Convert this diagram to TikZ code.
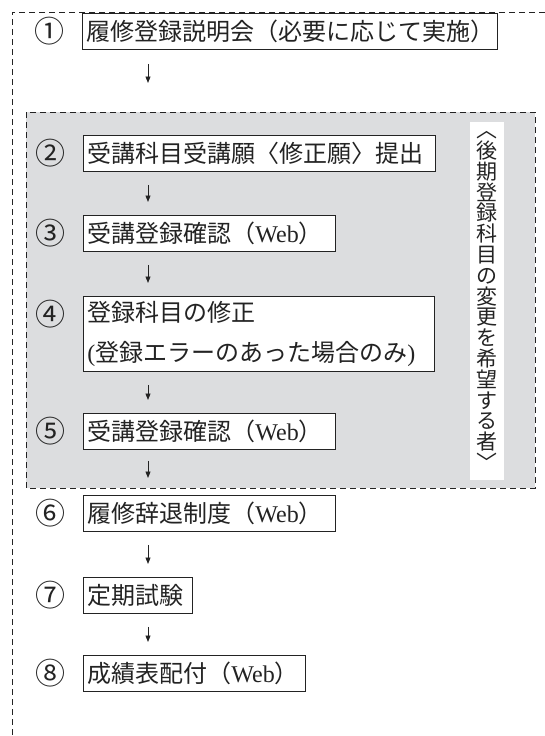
\documentclass[tikz,border=0pt]{standalone}
\usepackage{fontspec}
\setmainfont{Noto Sans CJK JP}
\newfontfamily\latin{Liberation Serif}
\usetikzlibrary{arrows.meta}

\definecolor{ink}{RGB}{35,35,35}
\definecolor{panelgray}{RGB}{220,221,223}

\tikzset{
  stepbox/.style={draw=ink, line width=0.8pt, fill=white, anchor=north west,
    minimum height=36pt, inner xsep=4pt, inner ysep=0pt, text width=#1pt,
    align=left, text=ink, font=\fontsize{24}{40}\selectfont},
  num/.style={text=ink, inner sep=0pt, font=\fontsize{30}{30}\selectfont},
  flow/.style={draw=ink, line width=0.9pt, -{Triangle[length=6.5pt,width=5pt]},
    shorten <=13pt, shorten >=13pt},
  frame/.style={draw=ink, line width=0.9pt, dash pattern=on 6pt off 4pt},
  vlabel/.style={fill=white, inner sep=0pt, minimum width=34pt, minimum height=358pt,
    align=center, text=ink, font=\fontsize{21}{20.8}\selectfont}
}

\newcommand{\web}{（{\latin Web}）}

\begin{document}
\begin{tikzpicture}[x=1pt, y=-1pt, line cap=butt]

  \useasboundingbox (0,0) rectangle (545,736);

  % frames
  \draw[frame] (545,12) -- (12,12) -- (12,736);
  \draw[frame, fill=panelgray] (26,112) rectangle (535,488);

  % steps
  \node[stepbox=407] (b1) at (82,13)  {履修登録説明会（必要に応じて実施）};
  \node[stepbox=344] (b2) at (83,135) {受講科目受講願〈修正願〉提出};
  \node[stepbox=244] (b3) at (83,215) {受講登録確認\web};
  \node[stepbox=343, minimum height=75pt] (b4) at (83,296)
    {登録科目の修正\\{\latin(}登録エラーのあった場合のみ{\latin)}};
  \node[stepbox=244] (b5) at (83,413) {受講登録確認\web};
  \node[stepbox=244] (b6) at (83,495) {履修辞退制度\web};
  \node[stepbox=101] (b7) at (83,577) {定期試験};
  \node[stepbox=214] (b8) at (83,655) {成績表配付\web};

  % numbers
  \foreach \n/\c in {1/①,2/②,3/③,4/④,5/⑤,6/⑥,7/⑦,8/⑧}
    \node[num] (n\n) at ([xshift=-33pt,yshift=-18pt]b\n.north west) {\c};

  % arrows
  \coordinate (ax) at (148,0);
  \draw[flow, shorten <=14pt, shorten >=52pt] (b1.south -| ax) -- (b2.north -| ax);
  \draw[flow] (b2.south -| ax) -- (b3.north -| ax);
  \draw[flow] (b3.south -| ax) -- (b4.north -| ax);
  \draw[flow] (b4.south -| ax) -- (b5.north -| ax);
  \draw[flow, shorten <=11pt, shorten >=17pt] (b5.south -| ax) -- (b6.north -| ax);
  \draw[flow] (b6.south -| ax) -- (b7.north -| ax);
  \draw[flow] (b7.south -| ax) -- (b8.north -| ax);

  % side label
  \node[vlabel] (who) at (487,301)
    {︿\\後\\期\\登\\録\\科\\目\\の\\変\\更\\を\\希\\望\\す\\る\\者\\﹀};

\end{tikzpicture}
\end{document}
